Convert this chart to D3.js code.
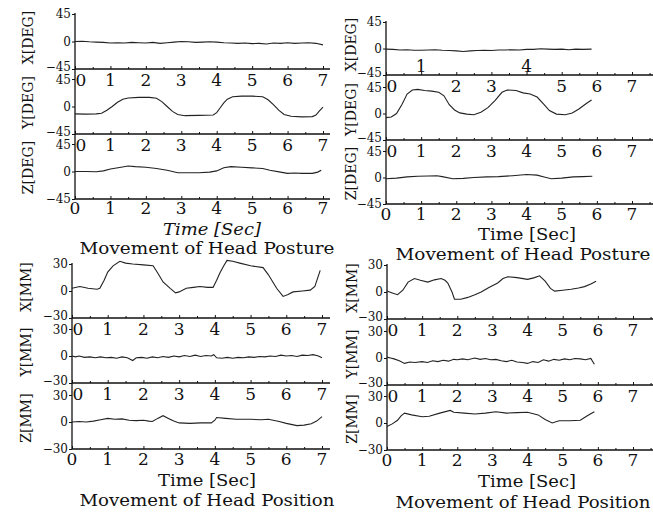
<html>

<head>
    <script src="https://d3js.org/d3.v7.min.js"></script>
    <style>
        body {
            margin: 0;
            background: #fff;
        }

        text {
            font-family: "DejaVu Serif", "Liberation Serif", serif;
            fill: #111;
        }
    </style>
</head>

<body>
    <svg height="514" width="653" id="headSvg"></svg>
    <script>
        // tick values
        const secTicks = [0, 1, 2, 3, 4, 5, 6, 7];
        const degTicks = [-45, 0, 45];
        const mmTicks = [-30, 0, 30];

        // posture, run 1 (left) - [time sec, angle deg]
        const postureX1 = [[0, 0], [0.2, 0.5], [0.4, -0.5], [0.6, -1], [0.8, -1.5], [1.0, -2.5], [1.2, -2], [1.4, -2.5],
        [1.6, -1.5], [1.8, -2], [2.0, -2.5], [2.2, -1.5], [2.4, -3], [2.6, -2], [2.8, -1], [3.0, 0], [3.2, -0.5],
        [3.4, -1.5], [3.6, -1], [3.8, -0.5], [4.0, -1], [4.2, -2], [4.4, -2.5], [4.6, -3], [4.8, -2.5], [5.0, -3.5],
        [5.2, -3], [5.4, -4], [5.6, -2.5], [5.8, -3], [6.0, -2], [6.2, -3], [6.4, -2.5], [6.6, -2], [6.8, -3], [7.0, -5.5]];
        const postureY1 = [[0, -12], [0.3, -12.5], [0.6, -12], [0.75, -11], [0.9, -6], [1.05, 0], [1.2, 7], [1.35, 12],
        [1.5, 14], [1.8, 15], [2.1, 15], [2.3, 13.5], [2.45, 8], [2.6, 0], [2.75, -8], [2.9, -13], [3.1, -15], [3.5, -14.5],
        [3.9, -14], [4.0, -10], [4.1, -2], [4.2, 6], [4.3, 12], [4.45, 16], [4.7, 17], [5.0, 17], [5.3, 16], [5.45, 11],
        [5.6, 3], [5.75, -6], [5.9, -13], [6.1, -16], [6.4, -17], [6.7, -16.5], [6.8, -14], [6.9, -7], [7.0, -1]];
        const postureZ1 = [[0, 0], [0.3, 0], [0.6, -0.5], [0.8, 1], [1.0, 4], [1.3, 7], [1.5, 9], [1.7, 8], [2.0, 7],
        [2.3, 5], [2.6, 2], [2.9, -2], [3.2, -2], [3.5, -2], [3.8, -1], [4.0, 1], [4.2, 6], [4.4, 8], [4.7, 7], [5.0, 6],
        [5.3, 5], [5.5, 2], [5.8, -1], [6.0, -3], [6.2, -2.5], [6.4, -3], [6.7, -3], [6.85, -1], [6.95, 2]];

        // posture, run 2 (right)
        const postureX2 = [[0, -1], [0.2, -1.5], [0.4, -2.5], [0.6, -2], [0.8, -3], [1.0, -3], [1.2, -2.5], [1.4, -2],
        [1.6, -3], [1.8, -3.5], [2.0, -4], [2.2, -5], [2.4, -4], [2.6, -3.5], [2.8, -3], [3.0, -3.5], [3.2, -2.5],
        [3.4, -2.5], [3.6, -2], [3.8, -2.5], [4.0, -1.5], [4.2, -1.5], [4.4, -0.5], [4.6, -1], [4.8, -1.5], [5.0, -1],
        [5.2, -2], [5.4, -1], [5.6, -1.5], [5.85, -1]];
        const postureY2 = [[0, -7], [0.15, -6], [0.3, 0], [0.45, 15], [0.6, 33], [0.75, 40], [0.9, 41], [1.1, 39],
        [1.3, 38], [1.5, 36], [1.65, 30], [1.8, 15], [1.95, 6], [2.1, 1], [2.3, -1], [2.5, -2], [2.7, 2], [2.9, 10],
        [3.1, 22], [3.3, 36], [3.45, 40], [3.7, 39], [3.9, 35], [4.1, 33], [4.3, 28], [4.5, 15], [4.65, 5], [4.85, -1],
        [5.1, -2], [5.3, 1], [5.5, 8], [5.7, 17], [5.85, 23]];
        const postureZ2 = [[0, -2], [0.3, -1], [0.6, 1], [0.9, 2], [1.2, 2.5], [1.45, 3], [1.6, 1.5], [1.9, -2],
        [2.2, -1.5], [2.5, 0], [2.87, 1], [3.2, 1.5], [3.6, 3], [4.0, 5], [4.3, 4], [4.5, 1], [4.7, -2], [5.0, -1],
        [5.33, 1], [5.6, 1.5], [5.87, 2]];

        // position, run 1 (left) - [time sec, mm]
        const positionX1 = [[0, 3], [0.22, 5], [0.45, 3], [0.7, 2], [0.78, 3], [0.9, 12], [1.0, 21], [1.15, 28],
        [1.34, 33], [1.5, 31], [1.7, 30], [2.0, 29], [2.27, 28], [2.4, 20], [2.55, 10], [2.75, 3], [2.9, -2], [3.0, -1],
        [3.2, 3], [3.4, 4], [3.58, 5], [3.8, 4], [3.95, 4], [4.05, 12], [4.14, 20], [4.25, 28], [4.34, 34], [4.5, 33],
        [4.7, 31], [5.0, 28], [5.35, 26], [5.5, 18], [5.73, 3], [5.91, -6], [6.05, -4], [6.19, -1], [6.45, 0],
        [6.67, 1], [6.8, 5], [6.95, 23]];
        const positionY1 = [[0, 0], [0.1, -1], [0.2, 0], [0.35, -1.5], [0.5, -1], [0.65, -2], [0.8, -1], [0.95, -2],
        [1.1, -1.5], [1.25, -2.5], [1.4, -1], [1.55, -2], [1.7, -5], [1.8, -2], [1.95, -1.5], [2.1, -2.5], [2.25, -1],
        [2.4, -2], [2.55, -0.5], [2.7, -1.5], [2.85, 0], [3.0, -1], [3.15, 0.5], [3.3, -0.5], [3.45, 1], [3.6, -0.5],
        [3.75, 0.5], [3.9, 0], [3.97, 1.5], [4.05, -2], [4.2, -2.5], [4.35, -1.5], [4.5, -2.5], [4.65, -1.5], [4.8, -2],
        [4.95, -1], [5.1, -1.5], [5.25, -0.5], [5.4, -1], [5.55, 0], [5.7, -0.5], [5.85, 1], [6.0, 0], [6.15, 0.5],
        [6.3, -0.5], [6.45, 1], [6.6, 0.5], [6.75, 1.5], [6.9, 0], [7.0, -2]];
        const positionZ1 = [[0, 0], [0.2, 0.5], [0.4, 0], [0.6, 1], [0.8, 2.5], [1.0, 4], [1.2, 3], [1.4, 3.5], [1.6, 2],
        [1.8, 1.5], [2.0, 2], [2.15, 1], [2.25, 0.5], [2.4, 4], [2.55, 7], [2.7, 4], [2.85, 1], [3.0, -1], [3.3, -1.5],
        [3.6, -1], [3.9, -1], [4.0, 2], [4.05, 5], [4.3, 4], [4.6, 3], [5.0, 3], [5.3, 2.5], [5.5, 3], [5.8, 0.5],
        [6.0, -1.5], [6.3, -4], [6.5, -3.5], [6.7, -2], [6.85, 1], [7.0, 6]];

        // position, run 2 (right)
        const positionX2 = [[0, 1], [0.15, -1], [0.3, -3], [0.45, 2], [0.6, 11], [0.78, 15], [0.95, 13], [1.16, 11],
        [1.35, 13.5], [1.54, 15], [1.65, 13], [1.73, 10], [1.85, 0], [1.92, -8], [2.1, -8], [2.3, -6], [2.5, -3],
        [2.68, 0], [2.9, 5], [3.15, 10], [3.3, 15], [3.44, 17], [3.7, 16], [4.0, 14], [4.2, 16], [4.34, 18], [4.5, 12],
        [4.65, 4], [4.77, 1], [5.0, 2], [5.24, 3], [5.45, 4.5], [5.62, 6], [5.8, 9], [5.95, 12]];
        const positionY2 = [[0, 1], [0.1, 0], [0.2, -1], [0.35, -3], [0.5, -6], [0.65, -4.5], [0.8, -5], [1.0, -4],
        [1.15, -5], [1.3, -3], [1.45, -4], [1.6, -2.5], [1.75, -3.5], [1.9, -1.5], [2.0, -2], [2.15, -1], [2.3, -2],
        [2.5, 0], [2.65, -1.5], [2.8, -0.5], [2.95, -2], [3.1, -1.5], [3.25, -3], [3.4, -4], [3.55, -2.5], [3.7, -4.5],
        [3.85, -5], [4.0, -6], [4.15, -4], [4.3, -5], [4.45, -2], [4.6, -3.5], [4.75, -1.5], [4.9, -2.5], [5.05, -1],
        [5.2, -2], [5.35, -0.5], [5.5, -1], [5.65, -2], [5.8, -0.5], [5.9, -7]];
        const positionZ2 = [[0, -4], [0.15, -1], [0.3, 3], [0.4, 8], [0.5, 11], [0.7, 9], [1.0, 7], [1.2, 7.5],
        [1.5, 11], [1.8, 14], [1.9, 12], [2.2, 11], [2.5, 10], [2.8, 11], [3.1, 12.5], [3.4, 11], [3.7, 11.5],
        [4.0, 12], [4.3, 9], [4.5, 4], [4.7, 0], [4.9, 2.5], [5.2, 2.5], [5.5, 3], [5.7, 8], [5.9, 12.5]];

        const svg = d3.select("#headSvg");

        // layout of the four panels (pixel positions)
        const panels = [
            {
                x0: 75, x7: 323, xEnd: 330, bottoms: [69, 134, 199], h: 55, ticks: degTicks, unit: "DEG",
                series: [postureX1, postureY1, postureZ1], labelX: 33, tickBase: 214,
                timeX: 212, timeY: 235, italic: true, title: "Movement of Head Posture", titleX: 207, titleY: 254
            },
            {
                x0: 386, x7: 632, xEnd: 653, bottoms: [75, 140, 204], h: 53, ticks: degTicks, unit: "DEG",
                series: [postureX2, postureY2, postureZ2], labelX: 356, tickBase: 220, oddRow: true,
                timeX: 527, timeY: 240, italic: false, title: "Movement of Head Posture", titleX: 523, titleY: 260
            },
            {
                x0: 72, x7: 322, xEnd: 330, bottoms: [318, 383, 449], h: 54, ticks: mmTicks, unit: "MM",
                series: [positionX1, positionY1, positionZ1], labelX: 31, tickBase: 465,
                timeX: 207, timeY: 486, italic: false, title: "Movement of Head Position", titleX: 207, titleY: 506
            },
            {
                x0: 387, x7: 633, xEnd: 653, bottoms: [319, 385, 450], h: 54, ticks: mmTicks, unit: "MM",
                series: [positionX2, positionY2, positionZ2], labelX: 357, tickBase: 466,
                timeX: 527, timeY: 487, italic: false, title: "Movement of Head Position", titleX: 523, titleY: 508
            }
        ];

        const axisNames = ["X", "Y", "Z"];
        const fmt = v => v < 0 ? "\u2212" + Math.abs(v) : String(v);

        panels.forEach(p => {
            const xScale = d3.scaleLinear().domain([0, 7]).range([p.x0, p.x7]);
            const tMax = xScale.invert(p.xEnd);
            const range = p.ticks[2];

            // one continuous y axis line for the three strips
            svg.append("line")
                .attr("x1", p.x0).attr("x2", p.x0)
                .attr("y1", p.bottoms[0] - p.h - 1).attr("y2", p.bottoms[2])
                .attr("stroke", "#111").attr("stroke-width", 1.3);

            p.bottoms.forEach((bottom, i) => {
                const yScale = d3.scaleLinear().domain([-range, range]).range([bottom, bottom - p.h]);

                // x axis with small ticks pointing up
                const bottomAxis = d3.axisBottom(xScale)
                    .tickValues(d3.range(0, tMax, 0.5))
                    .tickSize(0).tickFormat("");
                const axisG = svg.append("g")
                    .attr("transform", `translate(0,${bottom})`)
                    .call(bottomAxis);
                axisG.select(".domain").remove();
                axisG.selectAll(".tick line")
                    .attr("y2", d => Number.isInteger(d) ? -3 : -2)
                    .attr("stroke", "#111");
                svg.append("line")
                    .attr("x1", p.x0).attr("x2", p.xEnd)
                    .attr("y1", bottom).attr("y2", bottom)
                    .attr("stroke", "#111").attr("stroke-width", 1.6);

                // second labels under each strip
                const rowBase = i < 2 ? bottom + 17 : p.tickBase;
                secTicks.forEach(s => {
                    let tx = xScale(s);
                    let ty = rowBase;
                    if (s === 0 && i < 2) tx += 6;
                    if (p.oddRow && i === 0 && (s === 1 || s === 4)) ty = bottom - 3;
                    svg.append("text")
                        .attr("x", tx).attr("y", ty)
                        .attr("text-anchor", "middle")
                        .style("font-size", "17px")
                        .text(s);
                });

                // y axis ticks and labels
                const leftAxis = d3.axisLeft(yScale).tickValues(p.ticks).tickSize(3).tickFormat("");
                const leftG = svg.append("g")
                    .attr("transform", `translate(${p.x0},0)`)
                    .call(leftAxis);
                leftG.select(".domain").remove();
                leftG.selectAll(".tick line").attr("stroke", "#111");

                p.ticks.forEach(v => {
                    // nudge the stacked -/+ labels apart where strips meet
                    let shift = 0;
                    if (v < 0 && i < 2) shift = -2;
                    if (v > 0 && i > 0) shift = 1;
                    svg.append("text")
                        .attr("x", p.x0 - 4).attr("y", yScale(v) + shift)
                        .attr("dy", "0.35em")
                        .attr("text-anchor", "end")
                        .style("font-size", "12px")
                        .text(fmt(v));
                });

                // rotated strip label
                svg.append("text")
                    .attr("transform", `translate(${p.labelX},${yScale(0) - 4}) rotate(-90)`)
                    .attr("text-anchor", "middle")
                    .style("font-size", "14px")
                    .text(`${axisNames[i]}[${p.unit}]`);

                // trace
                const line = d3.line()
                    .x(d => xScale(d[0]))
                    .y(d => yScale(d[1]));
                svg.append("path")
                    .datum(p.series[i])
                    .attr("d", line)
                    .attr("fill", "none")
                    .attr("stroke", "#222")
                    .attr("stroke-width", 1.1);
            });

            svg.append("text")
                .attr("x", p.timeX).attr("y", p.timeY)
                .attr("text-anchor", "middle")
                .attr("textLength", 98)
                .attr("lengthAdjust", "spacingAndGlyphs")
                .style("font-size", "16px")
                .style("font-style", p.italic ? "italic" : "normal")
                .text("Time [Sec]");

            svg.append("text")
                .attr("x", p.titleX).attr("y", p.titleY)
                .attr("text-anchor", "middle")
                .attr("textLength", 255)
                .attr("lengthAdjust", "spacingAndGlyphs")
                .style("font-size", "17px")
                .text(p.title);
        });
    </script>
</body>

</html>
